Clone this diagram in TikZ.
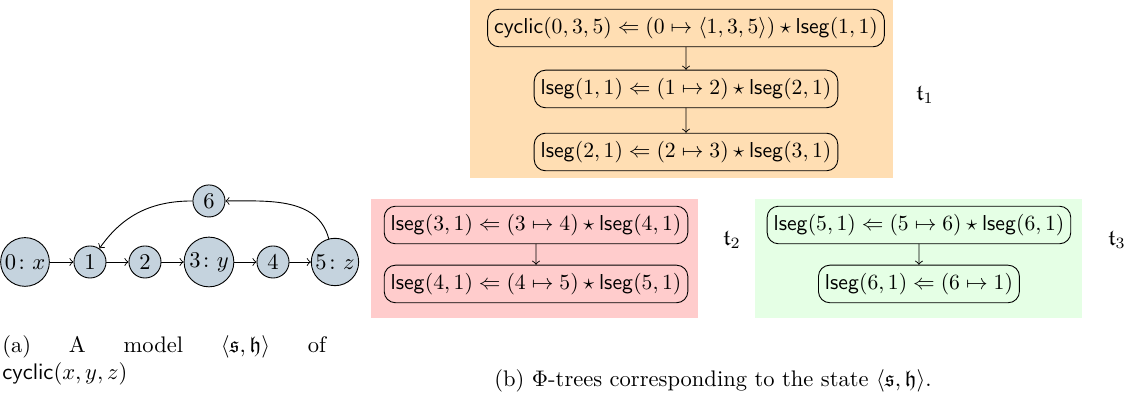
\documentclass[tikz,border=0pt]{standalone}
\usepackage{amsmath,amssymb}
\usepackage{tikz}
\usepackage{xcolor}
\definecolor{heapfill}{RGB}{197,211,222}
\definecolor{treeone}{RGB}{255,222,179}
\definecolor{treetwo}{RGB}{255,204,204}
\definecolor{treethree}{RGB}{229,255,229}
\newcommand{\ls}{\mathsf{lseg}}
\newcommand{\cyc}{\mathsf{cyclic}}

\begin{document}
\begin{tikzpicture}[>=to,line cap=round,
  loc/.style={circle,draw,fill=heapfill,inner sep=1pt,minimum size=0.5cm},
  unfold/.style={draw,rounded corners=5pt,inner sep=3pt,minimum height=0.61cm,scale=0.96}]
\useasboundingbox (0,0) rectangle (17.878,6.193);
% backgrounds of the three trees
\fill[treeone] (7.332,3.416) rectangle (13.931,6.193);
\fill[treetwo] (5.788,1.232) rectangle (10.889,3.089);
\fill[treethree] (11.778,1.232) rectangle (16.879,3.089);
% the heap
\node[loc] (h0) at (0.39,2.106) {$0\colon x$};
\node[loc] (h1) at (1.404,2.106) {$1$};
\node[loc] (h2) at (2.262,2.106) {$2$};
\node[loc] (h3) at (3.26,2.106) {$3\colon y$};
\node[loc] (h4) at (4.259,2.106) {$4$};
\node[loc] (h5) at (5.226,2.106) {$5\colon z$};
\node[loc] (h6) at (3.26,3.058) {$6$};
\draw[->] (h0) -- (h1);
\draw[->] (h1) -- (h2);
\draw[->] (h2) -- (h3);
\draw[->] (h3) -- (h4);
\draw[->] (h4) -- (h5);
\draw[->] (h5) to[out=105,in=0] (h6);
\draw[->] (h6) to[out=180,in=55] (h1);
% first tree
\node[unfold] (a1) at (10.702,5.756) {$\cyc(0,3,5) \Leftarrow (0 \mapsto \langle 1,3,5\rangle) \star \ls(1,1)$};
\node[unfold] (a2) at (10.702,4.805) {$\ls(1,1) \Leftarrow (1 \mapsto 2) \star \ls(2,1)$};
\node[unfold] (a3) at (10.702,3.822) {$\ls(2,1) \Leftarrow (2 \mapsto 3) \star \ls(3,1)$};
\draw[->] (a1) -- (a2);
\draw[->] (a2) -- (a3);
\node (t1) at (14.43,4.711) {$\mathfrak{t}_1$};
% second tree
\node[unfold] (b1) at (8.362,2.683) {$\ls(3,1) \Leftarrow (3 \mapsto 4) \star \ls(4,1)$};
\node[unfold] (b2) at (8.362,1.763) {$\ls(4,1) \Leftarrow (4 \mapsto 5) \star \ls(5,1)$};
\draw[->] (b1) -- (b2);
\node (t2) at (11.419,2.449) {$\mathfrak{t}_2$};
% third tree
\node[unfold] (c1) at (14.336,2.683) {$\ls(5,1) \Leftarrow (5 \mapsto 6) \star \ls(6,1)$};
\node[unfold] (c2) at (14.336,1.763) {$\ls(6,1) \Leftarrow (6 \mapsto 1)$};
\draw[->] (c1) -- (c2);
\node (t3) at (17.425,2.449) {$\mathfrak{t}_3$};
% captions
\node[anchor=north west,text width=5.05cm,align=justify,inner sep=0pt] (capa) at (0.03,0.96)
  {(a) A model $\langle\mathfrak{s},\mathfrak{h}\rangle$ of\linebreak $\cyc(x,y,z)$};
\node (capb) at (11.123,0.25) {(b) $\Phi$-trees corresponding to the state $\langle\mathfrak{s},\mathfrak{h}\rangle$.};
\end{tikzpicture}
\end{document}
